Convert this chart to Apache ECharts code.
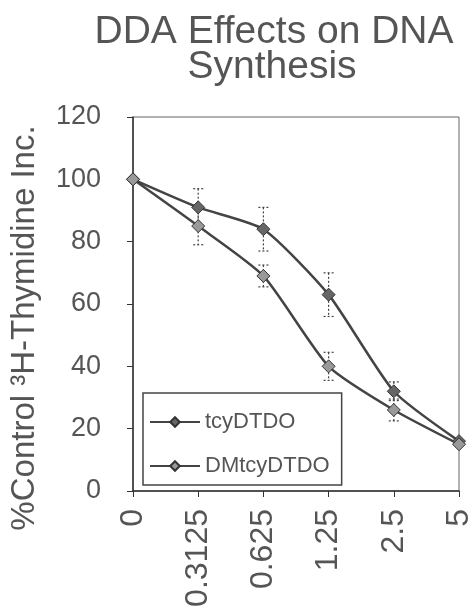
<!DOCTYPE html>
<html>
<head>
<meta charset="utf-8">
<script src="https://cdn.jsdelivr.net/npm/echarts@6/dist/echarts.min.js"></script>
<style>
  html, body { margin: 0; padding: 0; background: #fff; }
  #chart { width: 475px; height: 613px; }
</style>
</head>
<body>
<div id="chart"></div>
<script>
const doses = ['0', '0.3125', '0.625', '1.25', '2.5', '5']
const tcyValues = [100, 91, 84, 63, 32, 16]
const tcyErr = [0, 6, 7, 7, 3, 0]
const dmValues = [100, 85, 69, 40, 26, 15]
const dmErr = [0, 6, 3.5, 4.5, 3.5, 0]

let chart = echarts.init(document.getElementById('chart'))

function errorSeries(values, errs) {
  return {
    type: 'custom',
    silent: true,
    z: 1,
    data: values.map((v, i) => [i, v - errs[i], v + errs[i]]),
    renderItem: function (params, api) {
      let lo = api.coord([api.value(0), api.value(1)])
      let hi = api.coord([api.value(0), api.value(2)])
      if (Math.abs(lo[1] - hi[1]) < 1) return null
      let w = 5
      let style = { stroke: '#444', lineWidth: 1.2, lineDash: [2, 2] }
      return {
        type: 'group',
        children: [
          { type: 'line', shape: { x1: hi[0], y1: hi[1], x2: lo[0], y2: lo[1] }, style: style },
          { type: 'line', shape: { x1: hi[0] - w, y1: hi[1], x2: hi[0] + w, y2: hi[1] }, style: style },
          { type: 'line', shape: { x1: lo[0] - w, y1: lo[1], x2: lo[0] + w, y2: lo[1] }, style: style }
        ]
      }
    }
  }
}

let titleStyle = { fontSize: 39, fontWeight: 'normal', color: '#555', lineHeight: 39 }

let option = {
  animation: false,
  textStyle: { fontFamily: 'Liberation Sans, Arial, sans-serif' },
  title: [
    { text: 'DDA Effects on DNA', left: 269, top: 8, textAlign: 'center', textStyle: titleStyle },
    { text: 'Synthesis', left: 267, top: 43, textAlign: 'center', textStyle: titleStyle }
  ],
  legend: {
    orient: 'vertical',
    left: 143,
    top: 393,
    itemWidth: 50,
    itemHeight: 12,
    itemGap: 22,
    padding: [18, 12, 8, 6],
    borderColor: '#444',
    borderWidth: 1.5,
    textStyle: { fontSize: 22, color: '#555' },
    data: ['tcyDTDO', 'DMtcyDTDO']
  },
  grid: {
    left: 133,
    right: 12,
    top: 117,
    bottom: 122,
    show: true,
    borderColor: '#666',
    borderWidth: 1
  },
  xAxis: {
    type: 'category',
    data: doses,
    boundaryGap: false,
    axisLine: { lineStyle: { color: '#333', width: 1.5 } },
    axisTick: { alignWithLabel: true, length: 6, lineStyle: { color: '#333' } },
    axisLabel: { rotate: 90, fontSize: 32, color: '#555', margin: 18 }
  },
  yAxis: {
    type: 'value',
    min: 0,
    max: 120,
    interval: 20,
    name: '%Control ³H-Thymidine Inc.',
    nameLocation: 'middle',
    nameGap: 92,
    nameTextStyle: { fontSize: 33, color: '#555', padding: [0, 48, 0, 0] },
    axisLine: { show: true, lineStyle: { color: '#333', width: 1.5 } },
    axisTick: { show: true, length: 6, lineStyle: { color: '#333' } },
    axisLabel: { fontSize: 27, color: '#555', margin: 32 },
    splitLine: { show: false }
  },
  series: [
    errorSeries(tcyValues, tcyErr),
    errorSeries(dmValues, dmErr),
    {
      name: 'tcyDTDO',
      type: 'line',
      data: tcyValues,
      smooth: 0.2,
      symbol: 'diamond',
      symbolSize: 13,
      lineStyle: { color: '#444', width: 2.5 },
      itemStyle: { color: '#666', borderColor: '#333', borderWidth: 1 },
      z: 3
    },
    {
      name: 'DMtcyDTDO',
      type: 'line',
      data: dmValues,
      smooth: 0.2,
      symbol: 'diamond',
      symbolSize: 13,
      lineStyle: { color: '#444', width: 2.5 },
      itemStyle: { color: '#999', borderColor: '#333', borderWidth: 1 },
      z: 3
    }
  ]
}
chart.setOption(option)
</script>
</body>
</html>
